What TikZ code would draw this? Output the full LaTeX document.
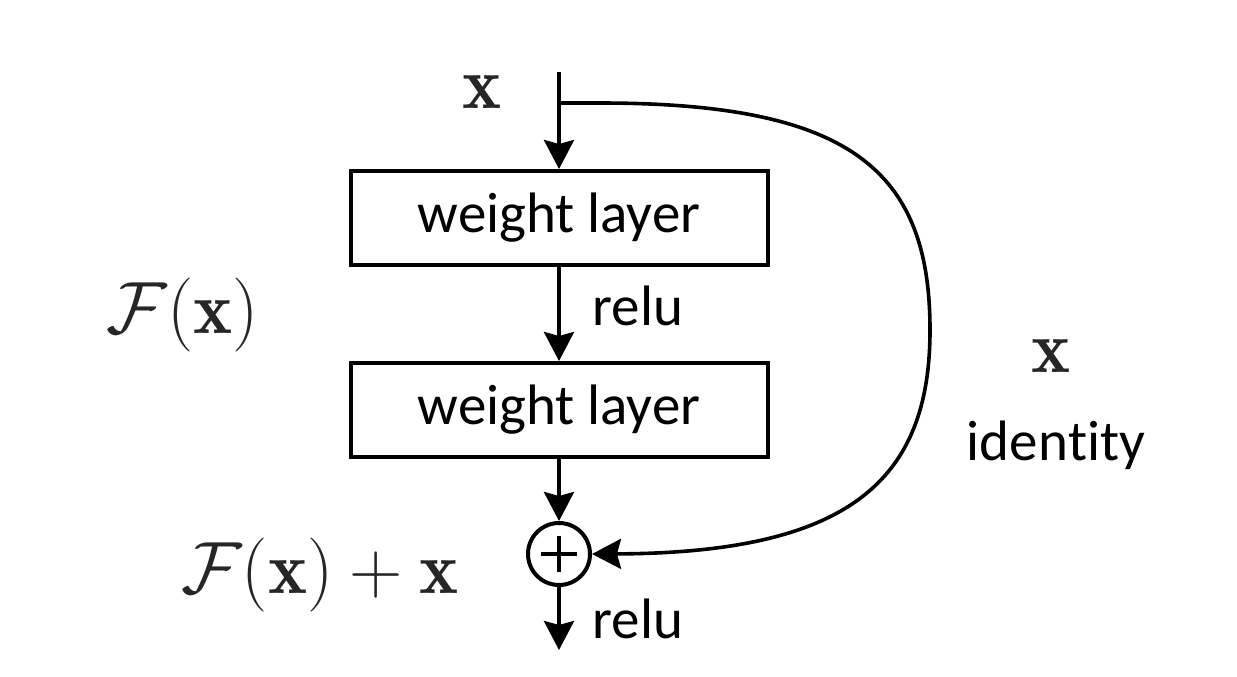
\RequirePackage{fix-cm}
\documentclass[tikz,border=0pt]{standalone}
\usepackage{fontspec}
\newfontfamily\calib[Ligatures={NoCommon,NoRequired,NoContextual}]{Carlito}
\usetikzlibrary{arrows.meta}
\begin{document}
\begin{tikzpicture}[x=0.5pt,y=-0.5pt, line width=2pt,
  arr/.style={-{Stealth[length=14.5pt,width=15pt,inset=2pt]}},
  layer/.style={draw, minimum width=208.5pt, minimum height=47pt, inner sep=0pt, font=\calib\fontsize{28.5}{30}\selectfont},
  sanslbl/.style={font=\calib\fontsize{28.5}{30}\selectfont, anchor=base, inner sep=0pt},
  mathlbl/.style={font=\fontsize{37}{40}\selectfont, anchor=base, inner sep=0pt, text=black!85},
  addnode/.style={draw, circle, minimum size=31pt, inner sep=0pt,
    path picture={\draw[line width=1.6pt] ([xshift=-9pt]path picture bounding box.center) -- ([xshift=9pt]path picture bounding box.center);
                  \draw[line width=1.6pt] ([yshift=-9pt]path picture bounding box.center) -- ([yshift=9pt]path picture bounding box.center);}}]
\useasboundingbox (0,0) rectangle (1237,676);
\fill[white] (0,0) rectangle (1237,676);

\coordinate (in) at (559,72);
\coordinate (split) at (559,103);
\node[layer] (w1) at (559,218) {weight layer};
\node[layer] (w2) at (559,410) {weight layer};
\node[addnode] (add) at (559,554) {};
\coordinate (out) at (559,650);

\draw[arr] (in) -- (w1.north);
\draw[arr] (w1.south) -- (w2.north);
\draw[arr] (w2.south) -- (add.north);
\draw[arr] (add.south) -- (out);
\draw[arr, line width=1.8pt] (split) -- (600,103) .. controls (850,103) and (930,170) .. (930,330)
  .. controls (930,480) and (850,553) .. (add.east);

\node[mathlbl] (xin) at (482,108) {$\mathbf{x}$};
\node[mathlbl] (fx) at (183,333) {$\mathcal{F}(\mathbf{x})$};
\node[mathlbl] (fxx) at (320,593) {$\mathcal{F}(\mathbf{x})+\mathbf{x}$};
\node[mathlbl] (xid) at (1051,372) {$\mathbf{x}$};
\node[sanslbl] (ident) at (1056,460) {iden\kern0pt t\kern0pt ity};
\node[sanslbl] (relu1) at (638,325) {relu};
\node[sanslbl] (relu2) at (638,638) {relu};
\end{tikzpicture}
\end{document}
